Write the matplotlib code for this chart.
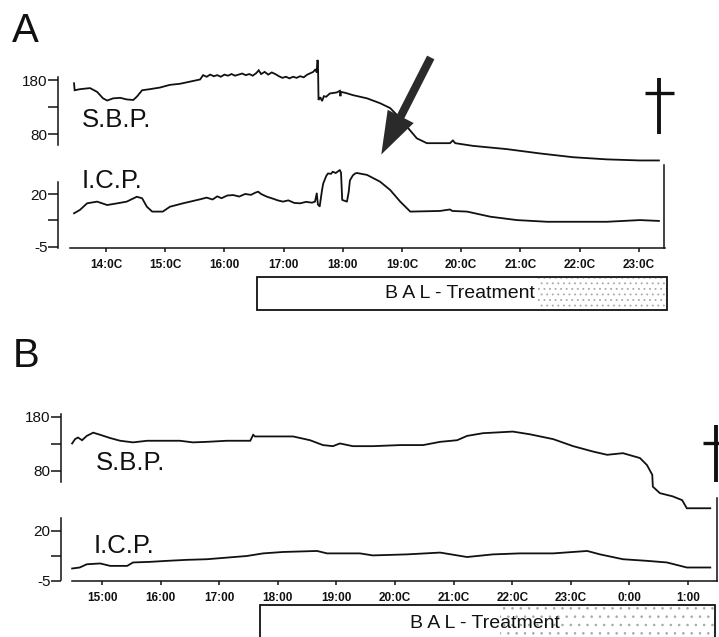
import matplotlib
matplotlib.use("Agg")
import matplotlib.pyplot as plt
from matplotlib.patches import Rectangle, FancyArrowPatch
from matplotlib.lines import Line2D

plt.rcParams['font.family'] = ['Liberation Sans', 'DejaVu Sans']

# ---------------- data (hours of day; SBP mmHg; ICP mmHg) ----------------
a_sbp_time = [13.46, 13.47, 13.56, 13.73, 13.85, 13.95, 14.02, 14.12, 14.24, 14.35, 14.46,
              14.52, 14.61, 14.74, 14.91, 15.08, 15.25, 15.42, 15.59,
              15.64, 15.70, 15.76, 15.82, 15.88, 15.94, 16.00, 16.06, 16.12, 16.18, 16.24,
              16.30, 16.36, 16.42, 16.48, 16.54, 16.58, 16.62, 16.68, 16.74, 16.80, 16.86,
              16.92, 16.98, 17.04, 17.10, 17.16, 17.22, 17.28, 17.34, 17.40, 17.46, 17.50,
              17.54, 17.56, 17.57, 17.58, 17.59, 17.62, 17.65, 17.68, 17.72, 17.78, 17.90,
              17.95, 17.96, 17.97, 18.05, 18.17, 18.41, 18.63, 18.80, 18.97, 19.08, 19.25,
              19.42, 19.81, 19.86, 19.90, 20.20, 20.77, 21.33, 21.89, 22.46, 23.02, 23.34]
a_sbp = [174, 161, 163, 165, 158, 146, 142, 146, 147, 144, 143,
         149, 161, 163, 166, 171, 173, 177, 181,
         189, 186, 190, 187, 189, 186, 190, 188, 191, 188, 190,
         192, 189, 191, 188, 193, 198, 191, 195, 190, 194, 191,
         187, 184, 186, 183, 186, 184, 187, 185, 190, 193, 195,
         200, 194, 217, 215, 143, 148, 141, 150, 149, 155, 157,
         160, 150, 158, 156, 152, 146, 137, 128, 109, 94, 72,
         63, 63, 68, 63, 58, 52, 44, 37, 33, 31, 31]

a_icp_time = [13.46, 13.56, 13.68, 13.85, 14.02, 14.19, 14.35, 14.52, 14.61, 14.69, 14.78,
              14.96, 15.08, 15.30, 15.59, 15.70, 15.80, 15.88, 15.95, 16.05, 16.15, 16.25,
              16.35, 16.45, 16.52, 16.57, 16.62, 16.72, 16.82, 16.90, 16.99, 17.08, 17.18,
              17.28, 17.38, 17.48, 17.53, 17.56, 17.58, 17.61, 17.65, 17.67, 17.72, 17.75,
              17.80, 17.83, 17.88, 17.95, 17.97, 17.99, 18.07, 18.10, 18.12, 18.17, 18.21,
              18.24, 18.41, 18.63, 18.80, 18.97, 19.14, 19.64, 19.81, 19.85, 20.10, 20.49,
              20.94, 21.45, 22.46, 23.02, 23.34]
a_icp = [10.9, 12.5, 15.6, 16.4, 14.8, 15.6, 16.4, 18.7, 18.0, 14.0, 11.7,
         11.7, 14.0, 15.6, 17.5, 18.3, 17.4, 18.9, 18.0, 19.3, 19.5, 18.8,
         20.0, 19.6, 20.6, 21.1, 20.0, 18.7, 17.8, 17.0, 16.4, 17.0, 15.8,
         15.6, 16.3, 15.9, 16.4, 20.3, 15.0, 14.2, 22.0, 25.0, 28.5, 29.7,
         29.5, 30.5, 29.9, 31.3, 30.0, 17.2, 16.4, 21.0, 26.4, 28.8, 29.7,
         29.9, 29.0, 25.8, 21.9, 16.4, 11.7, 12.0, 12.7, 12.0, 11.7, 9.3,
         7.7, 6.9, 6.9, 7.7, 7.3]

b_sbp_time = [14.49, 14.54, 14.59, 14.66, 14.74, 14.85, 14.97, 15.14, 15.31, 15.53, 15.77,
              16.04, 16.33, 16.55, 16.79, 17.13, 17.53, 17.58, 17.61, 17.92, 18.26, 18.55,
              18.77, 18.94, 19.06, 19.28, 19.62, 20.09, 20.48, 20.77, 21.06, 21.23, 21.50,
              22.01, 22.30, 22.70, 23.04, 23.38, 23.62, 23.89, 24.18, 24.30, 24.39, 24.40,
              24.52, 24.74, 24.90, 24.98, 25.38]
b_sbp = [131, 139, 142, 137, 145, 151, 147, 141, 136, 133, 136,
         136, 136, 133, 134, 136, 136, 147, 144, 144, 144, 137,
         128, 126, 131, 126, 126, 128, 128, 134, 137, 145, 150,
         153, 148, 139, 126, 116, 110, 113, 104, 91, 73, 51,
         39, 33, 26, 11, 11]

b_icp_time = [14.49, 14.62, 14.74, 14.97, 15.14, 15.43, 15.53, 15.82, 16.11, 16.45, 16.79,
              17.13, 17.47, 17.75, 18.09, 18.67, 18.84, 19.40, 19.62, 20.20, 20.77, 21.23,
              21.67, 22.13, 22.70, 23.28, 23.50, 23.89, 24.30, 24.64, 24.98, 25.38]
b_icp = [1.2, 1.7, 3.3, 3.7, 2.5, 2.5, 4.2, 4.5, 5.0, 5.5, 5.8,
         6.6, 7.4, 8.7, 9.4, 9.9, 8.7, 8.7, 7.7, 8.2, 9.1, 6.9,
         8.2, 8.7, 8.7, 9.9, 8.2, 5.8, 5.0, 4.2, 1.7, 1.7]

a_xticks = [14, 15, 16, 17, 18, 19, 20, 21, 22, 23]
a_xticklabels = ['14:0C', '15:0C', '16:00', '17:00', '18:00', '19:0C', '20:0C', '21:0C', '22:0C', '23:0C']
b_xticks = [15, 16, 17, 18, 19, 20, 21, 22, 23, 24, 25]
b_xticklabels = ['15:00', '16:00', '17:00', '18:00', '19:00', '20:0C', '21:0C', '22:0C', '23:0C', '0:00', '1:00']

sbp_ticks = [80, 130, 180]
sbp_ticklabels = ['80', '', '180']
icp_ticks = [-5, 7.5, 20]
icp_ticklabels = ['-5', '', '20']

a_bal = (16.55, 23.48)       # BAL treatment bar, panel A
a_bal_stipple = 21.3
b_bal = (17.70, 25.46)       # BAL treatment bar, panel B
b_bal_stipple = 21.8

# ---------------- layout helpers ----------------
W, H = 719, 637
fig = plt.figure(figsize=(W / 100, H / 100), dpi=100)
LW = 1.1
INK = '#111111'


def add_px_axes(l, t, r, b):
    ax = fig.add_axes([l / W, 1 - b / H, (r - l) / W, (b - t) / H])
    ax.patch.set_visible(False)
    for s in ax.spines.values():
        s.set_visible(False)
        s.set_linewidth(LW)
        s.set_color(INK)
    ax.tick_params(colors=INK, width=LW)
    return ax


def y_axis_style(ax, ticks, labels, lo, hi):
    ax.spines['left'].set_visible(True)
    ax.spines['left'].set_bounds(lo, hi)
    ax.set_yticks(ticks)
    ax.set_yticklabels(labels, fontsize=11)
    ax.tick_params(axis='y', direction='out', length=7, pad=0.5)


def panel(x_of_h_ref, pxh, left, right, sbp_px, icp_px, sbp_tick_px, icp_tick_px,
          sbp_spine_px, icp_spine_px, xaxis_px, box_px,
          st, sv, it, iv, xticks, xlabels, bal, stip, dense):
    h0, x0 = x_of_h_ref
    hx = lambda x: h0 + (x - x0) / pxh
    xlim = (hx(left), hx(right))

    # SBP
    (y180, y80) = sbp_tick_px
    sv_y = lambda y: 180 - (y - y180) * 100 / (y80 - y180)
    ax1 = add_px_axes(left, sbp_px[0], right, sbp_px[1])
    ax1.set_xlim(*xlim)
    ax1.set_ylim(sv_y(sbp_px[1]), sv_y(sbp_px[0]))
    ax1.plot(st, sv, color=INK, lw=1.3, solid_joinstyle='miter')
    ax1.set_xticks([])
    y_axis_style(ax1, sbp_ticks, sbp_ticklabels, sv_y(sbp_spine_px[1]), sv_y(sbp_spine_px[0]))

    # ICP
    (y20, ym5) = icp_tick_px
    iv_y = lambda y: 20 - (y - y20) * 25 / (ym5 - y20)
    ax2 = add_px_axes(left, icp_px[0], right, icp_px[1])
    ax2.set_xlim(*xlim)
    ax2.set_ylim(iv_y(icp_px[1]), iv_y(icp_px[0]))
    ax2.plot(it, iv, color=INK, lw=1.3)
    y_axis_style(ax2, icp_ticks, icp_ticklabels, iv_y(icp_px[1]), iv_y(icp_spine_px[0]))
    ax2.spines['right'].set_visible(True)
    ax2.spines['bottom'].set_visible(True)
    ax2.spines['bottom'].set_bounds(hx(xaxis_px[0]), hx(xaxis_px[1]))
    ax2.set_xticks(xticks)
    ax2.set_xticklabels(xlabels, fontsize=8.5, fontweight='bold')
    ax2.tick_params(axis='x', direction='out', length=3, pad=5)

    # BAL treatment bar
    ax3 = add_px_axes(left, box_px[0], right, box_px[1])
    ax3.set_xlim(*xlim)
    ax3.set_ylim(0, 1)
    ax3.set_xticks([])
    ax3.set_yticks([])
    ax3.add_patch(Rectangle((stip, 0.03), bal[1] - stip, 0.94, facecolor='none',
                            edgecolor='#a8a8a8', linewidth=0, hatch=dense, clip_on=False))
    ax3.add_patch(Rectangle((bal[0], 0), bal[1] - bal[0], 1, facecolor='none',
                            edgecolor=INK, linewidth=1.3, clip_on=False))
    return ax1, ax2, ax3


plt.rcParams['hatch.linewidth'] = 0.6

a1, a2, a3 = panel((14, 106), 59.2, 58, 664, (50, 170), (165, 248), (80, 134), (194, 247),
                   (77, 145), (182, 248), (70, 665), (277, 310),
                   a_sbp_time, a_sbp, a_icp_time, a_icp, a_xticks, a_xticklabels,
                   a_bal, a_bal_stipple, '...')
b1, b2, b3 = panel((15, 102), 58.6, 61, 717, (390, 520), (498, 581), (417, 471), (531, 582),
                   (414, 482), (518, 581), (72, 717), (605, 660),
                   b_sbp_time, b_sbp, b_icp_time, b_icp, b_xticks, b_xticklabels,
                   b_bal, b_bal_stipple, '..')

a3.text(19.98, 0.5, 'B A L - Treatment', fontsize=14, ha='center', va='center', color=INK)
b3.text(21.54, 0.67, 'B A L - Treatment', fontsize=14, ha='center', va='center', color=INK)


# series labels
def fig_text(x, y, s, size, **kw):
    fig.text(x / W, 1 - y / H, s, fontsize=size, color=INK, **kw)


fig_text(82, 127, 'S.B.P.', 18.5)
fig_text(82, 188, 'I.C.P.', 18.5)
fig_text(96, 470, 'S.B.P.', 18.5)
fig_text(94, 553, 'I.C.P.', 18.5)
fig_text(12, 42, 'A', 29)
fig_text(13, 367, 'B', 29)

# arrow in panel A
fig.add_artist(FancyArrowPatch(
    (432 / W, 1 - 55 / H), (380 / W, 1 - 157 / H), transform=fig.transFigure,
    arrowstyle='simple,head_length=2.2,head_width=1.5,tail_width=0.42',
    mutation_scale=14, color='#2a2a2a', linewidth=0))


# daggers (patient death)
def dagger(xc, ytop, ybot, ycross, xl, xr):
    fig.add_artist(Line2D([xc / W, xc / W], [1 - ytop / H, 1 - ybot / H],
                          transform=fig.transFigure, color=INK, lw=2.8, solid_capstyle='butt'))
    fig.add_artist(Line2D([xl / W, xr / W], [1 - ycross / H, 1 - ycross / H],
                          transform=fig.transFigure, color=INK, lw=2.4, solid_capstyle='butt'))


dagger(659, 78, 134, 93, 645, 674)
dagger(716, 425, 482, 443, 703, 722)

fig.savefig('out.png', dpi=100, facecolor='white')
